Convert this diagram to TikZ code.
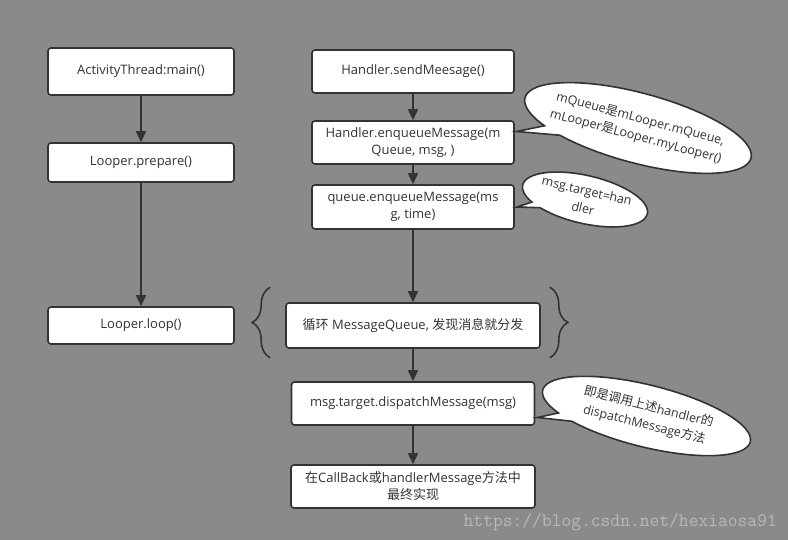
\documentclass[tikz,border=0pt]{standalone}
\usepackage{fontspec}
\setmainfont{Open Sans}
\newfontfamily\zhfont{Noto Sans CJK SC}
\newcommand{\zh}[1]{{\zhfont #1}}
\usepackage{tikz}
\usetikzlibrary{shapes.geometric,shapes.callouts,arrows.meta,positioning,calc,decorations.pathreplacing}
\definecolor{FlowBg}  {HTML}{8A8A8A}
\definecolor{FlowLine}{HTML}{333333}
\definecolor{FlowText}{HTML}{333333}
\definecolor{FlowMark}{HTML}{B8B8B8}
\tikzset{
  stepbox/.style={draw=FlowLine,fill=white,line width=1.6pt,rounded corners=3pt,
                  text=FlowText,font=\fontsize{13}{17}\selectfont,align=center,inner sep=2pt},
  flowarr/.style={-{Triangle[length=11pt,width=10pt]},line width=1.6pt,color=FlowLine},
  bracemark/.style={decorate,decoration={brace,amplitude=18pt},line width=1.6pt,color=FlowLine},
  note/.style={ellipse callout,draw=FlowLine,fill=white,line width=1.6pt,callout pointer arc=12},
  notetext/.style={text=FlowText,font=\fontsize{12.5}{18}\selectfont,align=center,inner sep=0pt}
}
\begin{document}
\begin{tikzpicture}[x=1pt,y=-1pt]
    \fill[FlowBg] (0,0) rectangle (788,540);
    \useasboundingbox (0,0) rectangle (788,540);
    % left column
    \node[stepbox,minimum width=186pt,minimum height=47pt] (main) at (141,71.5) {ActivityThread:main()};
    \node[stepbox,minimum width=186pt,minimum height=39pt] (prepare) at (141,162.5) {Looper.prepare()};
    \node[stepbox,minimum width=186pt,minimum height=37pt] (loop) at (141,325.5) {Looper.loop()};
    % right column
    \node[stepbox,minimum width=202pt,minimum height=43pt] (send) at (413,71.5) {Handler.sendMeesage()};
    \node[stepbox,minimum width=202pt,minimum height=43pt] (enq) at (413,142.5) {Handler.enqueueMessage(m\\Queue, msg, )};
    \node[stepbox,minimum width=202pt,minimum height=44pt] (queue) at (413,207) {queue.enqueueMessage(ms\\g, time)};
    \node[stepbox,minimum width=254pt,minimum height=45pt] (cycle) at (413,325.5) {\zh{循环} MessageQueue, \zh{发现消息就分发}};
    \node[stepbox,minimum width=243pt,minimum height=43pt] (dispatch) at (413,403.5) {msg.target.dispatchMessage(msg)};
    \node[stepbox,minimum width=244pt,minimum height=43pt] (final) at (413,486.5) {\zh{在}CallBack\zh{或}handlerMessage\zh{方法中}\\\zh{最终实现}};
    % arrows
    \draw[flowarr] (main) -- (prepare);
    \draw[flowarr] (prepare) -- (loop);
    \draw[flowarr] (send) -- (enq);
    \draw[flowarr] (enq) -- (queue);
    \draw[flowarr] (queue) -- (cycle);
    \draw[flowarr] (cycle) -- (dispatch);
    \draw[flowarr] (dispatch) -- (final);
    % braces round the loop
    \draw[bracemark] ($(cycle.south west)+(-15,9)$) -- ($(cycle.north west)+(-15,-15)$);
    \draw[bracemark] ($(cycle.north east)+(9,-15)$) -- ($(cycle.south east)+(9,9)$);
    % callouts
    \coordinate (tip1) at ($(enq.east)+(2,-11)$);
    \coordinate (tip2) at ($(queue.east)+(2,0)$);
    \coordinate (tip3) at ($(dispatch.east)+(2,14)$);
    \node[note,rotate=-15,minimum width=234pt,minimum height=70pt,callout absolute pointer={(tip1)}] (note1) at (638,128) {};
    \node[notetext,rotate=-15] at (note1.center) {mQueue\zh{是}mLooper.mQueue,\\mLooper\zh{是}Looper.myLooper()};
    \node[note,rotate=-13,minimum width=128pt,minimum height=48pt,callout absolute pointer={(tip2)}] (note2) at (585,199.5) {};
    \node[notetext,rotate=-13] at (note2.center) {msg.target=han\\dler};
    \node[note,rotate=-14,minimum width=214pt,minimum height=62pt,callout absolute pointer={(tip3)}] (note3) at (646.5,416) {};
    \node[notetext,rotate=-14] at (note3.center) {\zh{即是调用上述}handler\zh{的}\\dispatchMessage\zh{方法}};
    % watermark
    \node[anchor=base east,text=FlowMark,font=\ttfamily\fontsize{19}{19}\selectfont,inner sep=0pt] (mark) at (777,526) {https://blog.csdn.net/hexiaosa91};
\end{tikzpicture}
\end{document}
